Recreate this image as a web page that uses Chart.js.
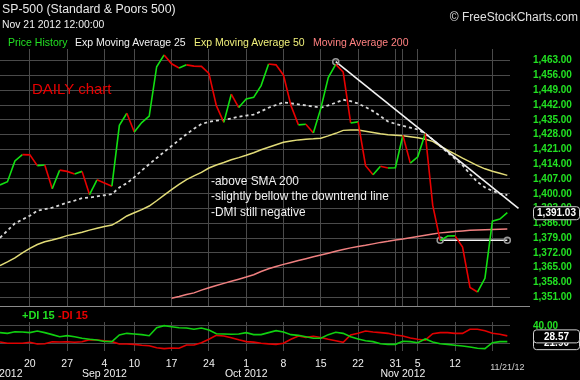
<!DOCTYPE html>
<html><head><meta charset="utf-8">
<script src="https://cdn.jsdelivr.net/npm/chart.js@4.4.1/dist/chart.umd.min.js"></script>
<style>
html,body{margin:0;padding:0;background:#000;width:580px;height:380px;overflow:hidden;font-family:"Liberation Sans",Arial,sans-serif;}
#wrap{position:relative;width:580px;height:380px;background:#000;}
canvas{position:absolute;left:0;}
.t{position:absolute;white-space:nowrap;line-height:1;z-index:5;}
#sep{position:absolute;left:0;top:306px;width:530px;height:1px;background:#8a8a8a;z-index:4;}
</style></head><body>
<div id="wrap">
<canvas id="main" width="580" height="306" style="top:0"></canvas>
<canvas id="dmi" width="580" height="74" style="top:306px"></canvas>
<div id="sep"></div>
<span class="t" style="left:2px;top:3px;font-size:12.3px;color:#e8e8e8">SP-500 (Standard &amp; Poors 500)</span>
<span class="t" style="left:2px;top:20px;font-size:10.4px;color:#f0f0f0">Nov 21 2012 12:00:00</span>
<span class="t" style="right:2px;top:11px;font-size:12px;color:#e0e0e0">© FreeStockCharts.com</span>
<span class="t" style="left:8px;top:37px;font-size:10.5px;color:#22e022">Price History</span>
<span class="t" style="left:75px;top:37px;font-size:10.5px;color:#f0f0f0">Exp Moving Average 25</span>
<span class="t" style="left:194px;top:37px;font-size:10.5px;color:#f0f07a">Exp Moving Average 50</span>
<span class="t" style="left:313px;top:37px;font-size:10.5px;color:#ff8080">Moving Average 200</span>
<span class="t" style="left:32px;top:81px;font-size:15px;color:#e80000">DAILY chart</span>
<span class="t" style="left:211px;top:176px;font-size:11.9px;color:#f0f0f0">-above SMA 200</span>
<span class="t" style="left:211px;top:191px;font-size:11.9px;color:#f0f0f0">-slightly bellow the downtrend line</span>
<span class="t" style="left:211px;top:207px;font-size:11.9px;color:#f0f0f0">-DMI still negative</span>
<span class="t" style="left:22px;top:310px;font-size:11px;font-weight:bold;color:#22e022">+DI 15</span>
<span class="t" style="left:58px;top:310px;font-size:11px;font-weight:bold;color:#e80000">-DI 15</span>
</div>
<script>
// ---------------- DATA ----------------
const tradingDays = [
 '2012-08-14','2012-08-15','2012-08-16','2012-08-17','2012-08-20','2012-08-21','2012-08-22','2012-08-23','2012-08-24',
 '2012-08-27','2012-08-28','2012-08-29','2012-08-30','2012-08-31',
 '2012-09-04','2012-09-05','2012-09-06','2012-09-07','2012-09-10','2012-09-11','2012-09-12','2012-09-13','2012-09-14',
 '2012-09-17','2012-09-18','2012-09-19','2012-09-20','2012-09-21','2012-09-24','2012-09-25','2012-09-26','2012-09-27','2012-09-28',
 '2012-10-01','2012-10-02','2012-10-03','2012-10-04','2012-10-05','2012-10-08','2012-10-09','2012-10-10','2012-10-11','2012-10-12',
 '2012-10-15','2012-10-16','2012-10-17','2012-10-18','2012-10-19','2012-10-22','2012-10-23','2012-10-24','2012-10-25','2012-10-26',
 '2012-10-31','2012-11-01','2012-11-02','2012-11-05','2012-11-06','2012-11-07','2012-11-08','2012-11-09',
 '2012-11-12','2012-11-13','2012-11-14','2012-11-15','2012-11-16','2012-11-19','2012-11-20','2012-11-21'];

const closes = [1404.2,1405.7,1415.5,1418.5,1418.4,1413.3,1413.6,1402.4,1411.2,1410.6,
 1409.4,1410.6,1399.6,1406.6,1405.1,1403.6,1432.4,1438.1,1429.2,1433.7,
 1436.8,1460.1,1465.7,1461.5,1459.5,1461.0,1460.4,1460.3,1457.0,1441.7,
 1433.8,1447.1,1440.8,1444.8,1445.6,1451.2,1461.4,1461.0,1456.1,1441.8,
 1432.6,1432.9,1428.8,1440.4,1455.0,1461.2,1457.6,1433.5,1434.0,1413.3,
 1409.0,1413.0,1412.2,1412.3,1427.7,1414.5,1417.5,1428.5,1394.6,1377.8,
 1380.0,1380.1,1374.8,1355.7,1353.5,1360.0,1387.0,1388.0,1391.03];

const ema25 = [1379.2,1382.6,1386.0,1387.8,1389.6,1392.0,1392.7,1393.4,1394.6,1395.8,
 1396.8,1397.9,1398.2,1398.8,1399.3,1399.8,1403.0,1405.0,1407.8,1411.0,
 1414.0,1416.9,1419.8,1422.6,1425.4,1428.2,1430.8,1433.0,1434.0,1434.6,
 1434.9,1435.6,1436.5,1437.0,1437.5,1439.0,1440.7,1442.0,1443.2,1442.8,
 1442.3,1441.8,1441.3,1440.8,1441.8,1443.1,1444.5,1443.8,1442.7,1441.0,
 1439.1,1436.7,1434.2,1433.1,1432.2,1431.3,1430.4,1428.3,1425.7,1422.6,
 1419.5,1416.5,1413.5,1409.3,1405.6,1403.0,1401.4,1400.1,1399.4];

const ema50 = [1366.0,1367.8,1369.7,1372.0,1374.2,1376.0,1377.3,1378.1,1379.1,1380.2,
 1381.0,1381.8,1382.8,1383.7,1384.5,1385.2,1387.2,1389.5,1391.0,1392.5,
 1394.2,1396.7,1399.4,1402.0,1404.4,1406.7,1408.5,1410.1,1412.2,1413.6,
 1414.8,1416.1,1417.1,1418.2,1419.4,1420.8,1422.0,1423.2,1424.4,1425.0,
 1425.5,1425.8,1426.0,1426.3,1427.4,1428.6,1430.0,1430.2,1430.2,1429.6,
 1429.0,1428.4,1427.9,1427.7,1427.5,1427.0,1426.5,1425.8,1424.8,1422.6,
 1420.6,1418.8,1416.9,1415.1,1413.3,1411.8,1410.7,1409.7,1408.7];

const sma200 = [null,null,null,null,null,null,null,null,null,null,
 null,null,null,null,null,null,null,null,null,null,null,null,null,
 1350.6,1351.4,1352.3,1353.1,1354.4,1355.5,1356.6,1357.6,1358.6,1359.6,
 1360.6,1361.7,1363.2,1364.5,1365.6,1366.6,1367.5,1368.4,1369.3,1370.2,
 1371.0,1371.9,1372.8,1373.6,1374.4,1375.0,1375.6,1376.3,1377.0,1377.5,
 1378.1,1378.6,1379.2,1379.8,1380.4,1381.0,1381.5,1381.8,1382.1,1382.4,
 1382.7,1382.9,1383.0,1383.1,1383.2,1383.3];

const plusDI = [32.3,31.5,33.4,33.0,32.3,34.2,32.3,30.0,27.6,28.8,
 27.6,25.8,24.6,23.8,22.0,21.9,29.6,31.5,30.8,30.0,
 28.8,38.0,40.4,39.2,38.0,37.7,36.2,37.7,35.4,31.1,
 30.8,30.4,30.8,32.3,30.0,30.0,32.3,34.6,33.0,30.0,
 29.2,27.6,25.8,25.8,30.0,32.7,31.5,27.6,25.0,23.0,
 21.9,19.5,18.8,18.8,22.3,21.9,20.7,25.0,21.5,19.5,
 18.8,17.7,16.9,15.7,14.2,13.8,20.7,21.9,21.9];

const minusDI = [21.5,20.0,20.0,20.0,21.2,19.2,19.5,21.8,21.5,21.8,
 21.2,21.8,24.2,23.8,23.0,21.9,19.2,19.2,18.8,17.7,
 17.2,14.9,13.8,14.6,14.2,18.0,18.0,20.7,24.6,29.2,
 28.4,26.5,24.0,21.9,21.3,20.0,19.3,18.8,20.0,24.6,
 28.4,26.9,28.2,26.7,24.6,23.0,21.2,29.6,31.5,34.2,
 33.0,32.3,31.5,29.5,28.4,26.1,24.6,23.6,31.1,32.3,
 32.3,31.5,31.5,36.2,36.2,34.6,31.5,30.4,28.57];

// drawn lines (trading-day position, price)
const trendX = [45, 69.5];
const trendY = [1462.5, 1393.1];
const supportX = [59, 68];
const supportY = [1378, 1378];

const priceTicks = [1351,1358,1365,1372,1379,1386,1393,1400,1407,1414,1421,1428,1435,1442,1449,1456,1463];
const dmiTicks = [40, 20];
const dayTickDates = ['2012-08-20','2012-08-27','2012-09-04','2012-09-10','2012-09-17','2012-09-24','2012-10-01','2012-10-08',
 '2012-10-15','2012-10-22','2012-10-31','2012-11-01','2012-11-05','2012-11-12','2012-11-19','2012-11-21'];
const dayTickLabels = ['20','27','4','10','17','24','1','8','15','22','31','','5','12','','11/21/12'];
const monthTickDates = ['2012-08-14','2012-09-04','2012-10-01','2012-11-01'];
const monthTickLabels = ['Aug 2012','Sep 2012','Oct 2012','Nov 2012'];

// ---------------- STYLE ----------------
const FONT = 'Liberation Sans';
const GRID = '#4a4a4a';
const UP = '#12e012', DOWN = '#e80000';
const AXIS_GREEN = '#22e022';
const X_MIN = 0, X_MAX = 68.36;
Chart.defaults.font.family = FONT;

const idxOf = d => tradingDays.indexOf(d);
const lastIdx = tradingDays.length - 1;
const dayTickIdx = dayTickDates.map(idxOf);
const monthTickIdx = monthTickDates.map(idxOf);
const allTickIdx = Array.from(new Set(dayTickIdx.concat(monthTickIdx))).sort((a, b) => a - b);
const noGridIdx = [monthTickIdx[0], lastIdx];
const pts = arr => arr.map((v, i) => ({x: i, y: v}));
const fmt = v => v.toLocaleString('en-US', {minimumFractionDigits: 2, maximumFractionDigits: 2});

const dayLabelMap = {};
dayTickIdx.forEach((v, i) => { dayLabelMap[v] = dayTickLabels[i]; });
const monthLabelMap = {};
monthTickIdx.forEach((v, i) => { monthLabelMap[v] = monthTickLabels[i]; });

function valueBox(ctx, x, y, text) {
  const w = 46, h = 13;
  ctx.save();
  ctx.beginPath();
  if (ctx.roundRect) ctx.roundRect(x + 0.5, y - h / 2 + 0.5, w, h, 3); else ctx.rect(x + 0.5, y - h / 2 + 0.5, w, h);
  ctx.fillStyle = '#000'; ctx.fill();
  ctx.strokeStyle = '#d0d0d0'; ctx.lineWidth = 1; ctx.stroke();
  ctx.fillStyle = '#ffffff';
  ctx.font = 'bold 10px ' + FONT;
  ctx.textAlign = 'center'; ctx.textBaseline = 'middle';
  ctx.fillText(text, x + w / 2 + 0.5, y + 1);
  ctx.restore();
}

const rightAxisFit = s => { s.width = 70; s.paddingTop = 0; s.paddingBottom = 0; };
const gridColor = c => (c.tick && noGridIdx.includes(c.tick.value)) ? 'rgba(0,0,0,0)' : GRID;

// ---------------- MAIN CHART ----------------
new Chart(document.getElementById('main'), {
  type: 'line',
  data: {
    datasets: [
      {label: 'Price History', data: pts(closes), borderWidth: 1.6, pointRadius: 0, tension: 0,
       borderColor: UP,
       segment: {borderColor: c => c.p1.parsed.y >= c.p0.parsed.y ? UP : DOWN}},
      {label: 'trend', data: trendX.map((x, i) => ({x, y: trendY[i]})), borderColor: '#f2f2f2', borderWidth: 1.6,
       pointRadius: 3, pointBorderColor: '#9a9a9a', pointBackgroundColor: 'rgba(0,0,0,0)', pointBorderWidth: 1.5, clip: false},
      {label: 'support', data: supportX.map((x, i) => ({x, y: supportY[i]})), borderColor: '#f2f2f2', borderWidth: 1.6,
       pointRadius: 3, pointBorderColor: '#9a9a9a', pointBackgroundColor: 'rgba(0,0,0,0)', pointBorderWidth: 1.5, clip: false},
      {label: 'Exp Moving Average 25', data: pts(ema25), borderColor: '#d8d8d8', borderWidth: 1.8, borderDash: [3, 3], pointRadius: 0, tension: 0},
      {label: 'Exp Moving Average 50', data: pts(ema50), borderColor: '#e2dc78', borderWidth: 1.5, pointRadius: 0, tension: 0},
      {label: 'Moving Average 200', data: pts(sma200), borderColor: '#f08080', borderWidth: 1.5, pointRadius: 0, tension: 0}
    ]
  },
  options: {
    responsive: false, animation: false, devicePixelRatio: 1,
    layout: {padding: {top: 49, left: 0, right: 0, bottom: 0}, autoPadding: false},
    plugins: {legend: {display: false}, tooltip: {enabled: false}},
    scales: {
      x: {
        type: 'linear', min: X_MIN, max: X_MAX,
        afterBuildTicks: s => { s.ticks = dayTickIdx.map(v => ({value: v})); },
        ticks: {display: false, autoSkip: false},
        grid: {color: gridColor, drawTicks: false},
        border: {display: false},
        afterFit: s => { s.height = 0; s.paddingLeft = 0; s.paddingRight = 0; }
      },
      y: {
        position: 'right', min: 1346.9, max: 1468.5,
        afterBuildTicks: s => { s.ticks = priceTicks.map(v => ({value: v})); },
        ticks: {color: AXIS_GREEN, font: {size: 10, weight: 'bold'}, padding: 23, autoSkip: false, callback: v => fmt(v)},
        grid: {color: GRID, drawTicks: false},
        border: {display: false},
        afterFit: rightAxisFit
      }
    }
  },
  plugins: [{
    id: 'lastPrice',
    afterDraw(chart) {
      const y = chart.scales.y.getPixelForValue(closes[lastIdx]);
      valueBox(chart.ctx, 533, y, fmt(closes[lastIdx]));
    }
  }]
});

// ---------------- DMI CHART ----------------
new Chart(document.getElementById('dmi'), {
  type: 'line',
  data: {
    datasets: [
      {label: '+DI 15', data: pts(plusDI), borderColor: '#10d010', borderWidth: 1.6, pointRadius: 0, tension: 0},
      {label: '-DI 15', data: pts(minusDI), borderColor: '#e00000', borderWidth: 1.6, pointRadius: 0, tension: 0}
    ]
  },
  options: {
    responsive: false, animation: false, devicePixelRatio: 1,
    layout: {padding: {top: 16, left: 0, right: 0, bottom: 0}, autoPadding: false},
    plugins: {legend: {display: false}, tooltip: {enabled: false}},
    scales: {
      x: {
        type: 'linear', position: 'bottom', min: X_MIN, max: X_MAX,
        afterBuildTicks: s => { s.ticks = allTickIdx.map(v => ({value: v})); },
        ticks: {display: true, autoSkip: false, maxRotation: 0, padding: 7.5,
          color: c => (c.tick && c.tick.value === lastIdx) ? '#d0d0d0' : '#f0f0f0',
          font: c => (c.tick && c.tick.value === lastIdx)
            ? {size: 9, family: FONT, lineHeight: 2}
            : {size: 10.5, family: FONT, lineHeight: 1},
          callback: v => monthLabelMap[v] !== undefined ? [dayLabelMap[v] || '', monthLabelMap[v]] : (dayLabelMap[v] || '')},
        grid: {color: gridColor, drawTicks: false},
        border: {display: false},
        afterFit: s => { s.height = 29; s.paddingLeft = 0; s.paddingRight = 0; }
      },
      y: {
        position: 'right', min: 11.1, max: 44.6,
        afterBuildTicks: s => { s.ticks = dmiTicks.map(v => ({value: v})); },
        ticks: {color: AXIS_GREEN, font: {size: 10, weight: 'bold'}, padding: 23, autoSkip: false, callback: v => fmt(v)},
        grid: {color: GRID, drawTicks: false},
        border: {display: false},
        afterFit: rightAxisFit
      }
    }
  },
  plugins: [{
    id: 'lastDMI',
    afterDraw(chart) {
      const sy = chart.scales.y;
      valueBox(chart.ctx, 533, sy.getPixelForValue(plusDI[lastIdx]) + 1, fmt(plusDI[lastIdx]));
      valueBox(chart.ctx, 533, sy.getPixelForValue(minusDI[lastIdx]), fmt(minusDI[lastIdx]));
    }
  }]
});
</script>
</body></html>
